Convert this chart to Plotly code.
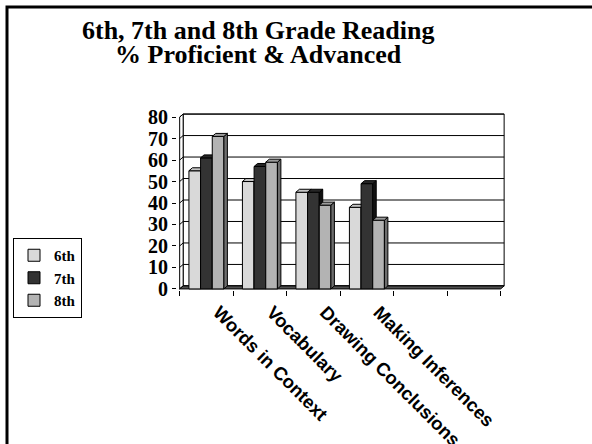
import plotly.graph_objects as go

# ---- data -------------------------------------------------------------
categories = ["Words in Context", "Vocabulary", "Drawing Conclusions", "Making Inferences"]
n_slots = 6  # the category axis carries two extra, empty slots
grades = ["6th", "7th", "8th"]
grade6 = [55, 50, 45, 38]
grade7 = [61, 57, 45, 49]
grade8 = [71, 59, 39, 32]
y_ticks = [0, 10, 20, 30, 40, 50, 60, 70, 80]

series = [grade6, grade7, grade8]
front_colors = ["#d9d9d9", "#333333", "#b3b3b3"]
top_colors = ["#c4c4c4", "#262626", "#9c9c9c"]
side_colors = ["#8c8c8c", "#111111", "#6e6e6e"]

# ---- geometry ---------------------------------------------------------
W, H = 592, 444
L, T, PW, PH = 177, 113, 329, 177
X_RANGE = [-0.55, n_slots - 0.5 + 0.1]
Y_RANGE = [-0.5, 81.9]
DX, DY = 0.065, 1.4          # depth of the 3-D box, in axis units
GROUP = 0.654                # share of a category slot used by the bars
BW = GROUP / len(series)


def xp(px):
    return (px - L) / PW


def yp(py):
    return (T + PH - py) / PH


fig = go.Figure()

for k, (name, vals) in enumerate(zip(grades, series)):
    xa = "x" if k == 0 else f"x{k + 1}"
    ya = "y" if k == 0 else f"y{k + 1}"
    off = -GROUP / 2 + k * BW
    xs = list(range(len(vals)))
    fig.add_trace(go.Bar(
        x=xs, y=vals, width=BW, offset=off, name=name,
        marker=dict(color=front_colors[k], line=dict(color="black", width=1)),
        xaxis=xa, yaxis=ya, hoverinfo="skip",
    ))
    for i, v in enumerate(vals):
        xl = i + off
        xr = xl + BW
        # right-hand side face
        fig.add_trace(go.Scatter(
            x=[xr, xr + DX, xr + DX, xr, xr],
            y=[0, DY, v + DY, v, 0],
            mode="lines", fill="toself", fillcolor=side_colors[k],
            line=dict(color="black", width=1),
            showlegend=False, hoverinfo="skip", xaxis=xa, yaxis=ya,
        ))
        # top face
        fig.add_trace(go.Scatter(
            x=[xl, xl + DX, xr + DX, xr, xl],
            y=[v, v + DY, v + DY, v, v],
            mode="lines", fill="toself", fillcolor=top_colors[k],
            line=dict(color="black", width=1),
            showlegend=False, hoverinfo="skip", xaxis=xa, yaxis=ya,
        ))

# ---- walls, floor and gridlines --------------------------------------
x0, x1 = -0.5, n_slots - 0.5
top = y_ticks[-1]
shapes = [
    # back wall
    dict(type="rect", xref="x", yref="y", x0=x0 + DX, x1=x1 + DX, y0=DY, y1=top + DY,
         fillcolor="white", line=dict(color="black", width=1), layer="below"),
    # side wall
    dict(type="path", xref="x", yref="y",
         path=f"M{x0},0 L{x0 + DX},{DY} L{x0 + DX},{top + DY} L{x0},{top} Z",
         fillcolor="white", line=dict(color="black", width=1), layer="below"),
]
for v in y_ticks:
    shapes.append(dict(type="line", xref="x", yref="y", x0=x0 + DX, x1=x1 + DX,
                       y0=v + DY, y1=v + DY, line=dict(color="black", width=1), layer="below"))
    shapes.append(dict(type="line", xref="x", yref="y", x0=x0, x1=x0 + DX,
                       y0=v, y1=v + DY, line=dict(color="black", width=1), layer="below"))
# floor
shapes.append(dict(type="path", xref="x", yref="y",
                   path=f"M{x0},0 L{x1},0 L{x1 + DX},{DY} L{x0 + DX},{DY} Z",
                   fillcolor="#505050", line=dict(color="black", width=1), layer="below"))
# outer frame
shapes.append(dict(type="rect", xref="paper", yref="paper",
                   x0=xp(7), x1=xp(W + 40), y0=yp(7), y1=yp(H + 40),
                   line=dict(color="black", width=3), fillcolor="rgba(0,0,0,0)"))

serif = "Liberation Serif, Times New Roman, serif"
sans = "Liberation Sans, Arial, sans-serif"

annotations = [
    dict(text="6th, 7th and 8th Grade Reading", x=xp(258.5), y=yp(30),
         xref="paper", yref="paper", showarrow=False, xanchor="center", yanchor="middle",
         font=dict(family=serif, size=26, color="black", weight="bold")),
    dict(text="% Proficient & Advanced", x=xp(258.5), y=yp(54.5),
         xref="paper", yref="paper", showarrow=False, xanchor="center", yanchor="middle",
         font=dict(family=serif, size=26, color="black", weight="bold")),
]

fig.update_layout(
    width=W, height=H,
    margin=dict(l=L, r=W - L - PW, t=T, b=H - T - PH, pad=0, autoexpand=False),
    paper_bgcolor="white", plot_bgcolor="rgba(0,0,0,0)",
    barmode="overlay",
    shapes=shapes, annotations=annotations,
    showlegend=True,
    legend=dict(
        x=xp(13), y=yp(238), xanchor="left", yanchor="top",
        bordercolor="black", borderwidth=1, bgcolor="white",
        font=dict(family=serif, size=15, color="black", weight="bold"),
        tracegroupgap=0, itemwidth=30,
    ),
    xaxis=dict(
        range=X_RANGE, showgrid=False, zeroline=False, showline=False, automargin=False,
        tickvals=list(range(len(categories))), ticktext=categories,
        tickangle=45, ticks="", ticklabelshift=12, ticklabelstandoff=7,
        tickfont=dict(family=sans, size=18.5, color="black", weight="bold"),
        minor=dict(tickvals=[i - 0.5 for i in range(n_slots + 1)], ticks="outside",
                   ticklen=5, tickcolor="black", tickwidth=1, showgrid=False),
    ),
    yaxis=dict(
        range=Y_RANGE, showgrid=False, zeroline=False, showline=False, automargin=False,
        tickvals=y_ticks, ticks="outside", ticklen=4, tickcolor="black",
        tickfont=dict(family=serif, size=20, color="black", weight="bold"),
    ),
    xaxis2=dict(overlaying="x", matches="x", range=X_RANGE, visible=False),
    yaxis2=dict(overlaying="y", matches="y", range=Y_RANGE, visible=False),
    xaxis3=dict(overlaying="x", matches="x", range=X_RANGE, visible=False),
    yaxis3=dict(overlaying="y", matches="y", range=Y_RANGE, visible=False),
)

fig.write_html("out.html")
